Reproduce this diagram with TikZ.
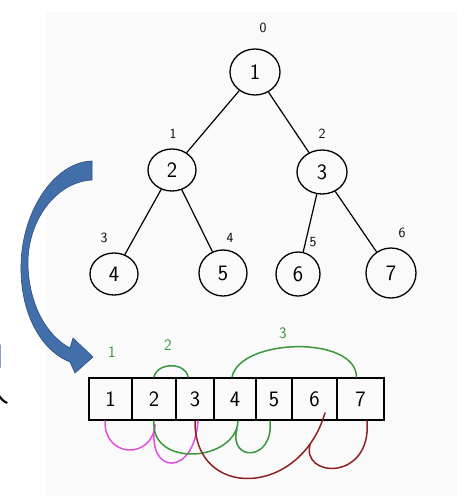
\documentclass[tikz,border=0pt]{standalone}
\usepackage{fontspec}
\newfontfamily\cjk{Noto Sans CJK SC}
\usetikzlibrary{shapes.geometric}
\definecolor{arrowblue}{RGB}{66,110,170}
\definecolor{arrowedge}{RGB}{45,80,130}
\definecolor{mag}{RGB}{225,80,225}
\definecolor{grn}{RGB}{60,150,60}
\definecolor{dred}{RGB}{140,35,35}
\definecolor{bgc}{RGB}{250,250,250}
\definecolor{cutblue}{RGB}{30,70,150}
\begin{document}
\begin{tikzpicture}[x=1pt,y=-1pt,
  treenode/.style={ellipse, draw, line width=1.3pt, inner sep=0pt, font=\sffamily\fontsize{22}{22}\selectfont},
  idx/.style={inner sep=0pt, font=\sffamily\fontsize{14}{14}\selectfont},
  cell/.style={rectangle, draw, line width=1.8pt, minimum height=42pt, inner sep=0pt, font=\sffamily\fontsize{22}{22}\selectfont},
  treeedge/.style={line width=1.2pt},
  glabel/.style={inner sep=0pt, text=grn, font=\sffamily\fontsize{16}{16}\selectfont},
  hand/.style={line width=1.5pt, line cap=round},
  cutglyph/.style={inner sep=0pt, font=\cjk\fontsize{28}{28}\selectfont}]
\useasboundingbox (0,0) rectangle (457,496);
\fill[white] (0,0) rectangle (457,496);
\fill[bgc] (46,12) rectangle (457,496);

% cut-off text at the left edge (the reference shows it cut by the frame)
\node[cutglyph, text=cutblue] (g1) at (-10,357) {门};
\node[cutglyph] (g2) at (-4,392) {人};

% tree
\node[treenode, minimum width=50pt, minimum height=46pt] (n1) at (255,72) {1};
\node[treenode, minimum width=48pt, minimum height=42pt] (n2) at (172,170) {2};
\node[treenode, minimum width=50pt, minimum height=44pt] (n3) at (322,172) {3};
\node[treenode, minimum width=48pt, minimum height=42pt] (n4) at (114,274) {4};
\node[treenode, minimum width=48pt, minimum height=46pt] (n5) at (223,273) {5};
\node[treenode, minimum width=44pt, minimum height=44pt] (n6) at (298,274) {6};
\node[treenode, minimum width=50pt, minimum height=50pt] (n7) at (391,273) {7};
\draw[treeedge] (n1) -- (n2);
\draw[treeedge] (n1) -- (n3);
\draw[treeedge] (n2) -- (n4);
\draw[treeedge] (n2) -- (n5);
\draw[treeedge] (n3) -- (n6);
\draw[treeedge] (n3) -- (n7);

% index labels
\node[idx] (i0) at (263,28) {0};
\node[idx] (i1) at (173,134) {1};
\node[idx] (i2) at (322,134) {2};
\node[idx] (i3) at (104,238) {3};
\node[idx] (i4) at (230,238) {4};
\node[idx] (i5) at (313,242) {5};
\node[idx] (i6) at (402,233) {6};

% curved blue arrow
\filldraw[fill=arrowblue, draw=arrowedge, line width=0.6pt]
  (92,161) .. controls (55,162) and (22,210) .. (21,265)
  .. controls (20,312) and (40,350) .. (70,362)
  -- (75,373) -- (93,357) -- (73,338) -- (70,348)
  .. controls (47,336) and (29,305) .. (28,265)
  .. controls (27,222) and (55,182) .. (92,180) -- cycle;

% array
\node[cell, minimum width=43pt] (c1) at (110.5,399) {1};
\node[cell, minimum width=44pt] (c2) at (154,399) {2};
\node[cell, minimum width=38pt] (c3) at (195,399) {3};
\node[cell, minimum width=42pt] (c4) at (235,399) {4};
\node[cell, minimum width=36pt] (c5) at (274,399) {5};
\node[cell, minimum width=45pt] (c6) at (314.5,399) {6};
\node[cell, minimum width=47pt] (c7) at (360.5,399) {7};

% green labels
\node[glabel] (l1) at (112,352) {1};
\node[glabel] (l2) at (168,345) {2};
\node[glabel] (l3) at (283,333) {3};

% green arcs above
\draw[hand, grn] (c2.north) .. controls (157,362) and (186,362) .. ([xshift=-7pt]c3.north);
\draw[hand, grn] ([xshift=-3pt]c4.north) .. controls (240,338) and (356,335) .. ([xshift=-4pt]c7.north);

% magenta loops below
\draw[hand, mag] ([xshift=-5.5pt]c1.south) .. controls (104,458) and (152,460) .. ([xshift=1pt,yshift=-4pt]c2.south);
\draw[hand, mag] ([xshift=1pt,yshift=-4pt]c2.south) .. controls (146,475) and (194,478) .. ([xshift=3pt]c3.south);

% green loops below
\draw[hand, grn] (c2.south) .. controls (150,468) and (236,462) .. ([xshift=3pt]c4.south);
\draw[hand, grn] ([xshift=2pt,yshift=-8pt]c4.south) .. controls (228,462) and (274,462) .. ([xshift=-4pt]c5.south);

% dark red loops below
\draw[hand, dred] (c3.south) .. controls (194,500) and (300,498) .. coordinate[pos=0.86] (r6) ([xshift=10.5pt,yshift=8pt]c6.south);
\draw[hand, dred] (r6) .. controls (300,478) and (372,482) .. ([xshift=6.5pt]c7.south);
\end{tikzpicture}
\end{document}
